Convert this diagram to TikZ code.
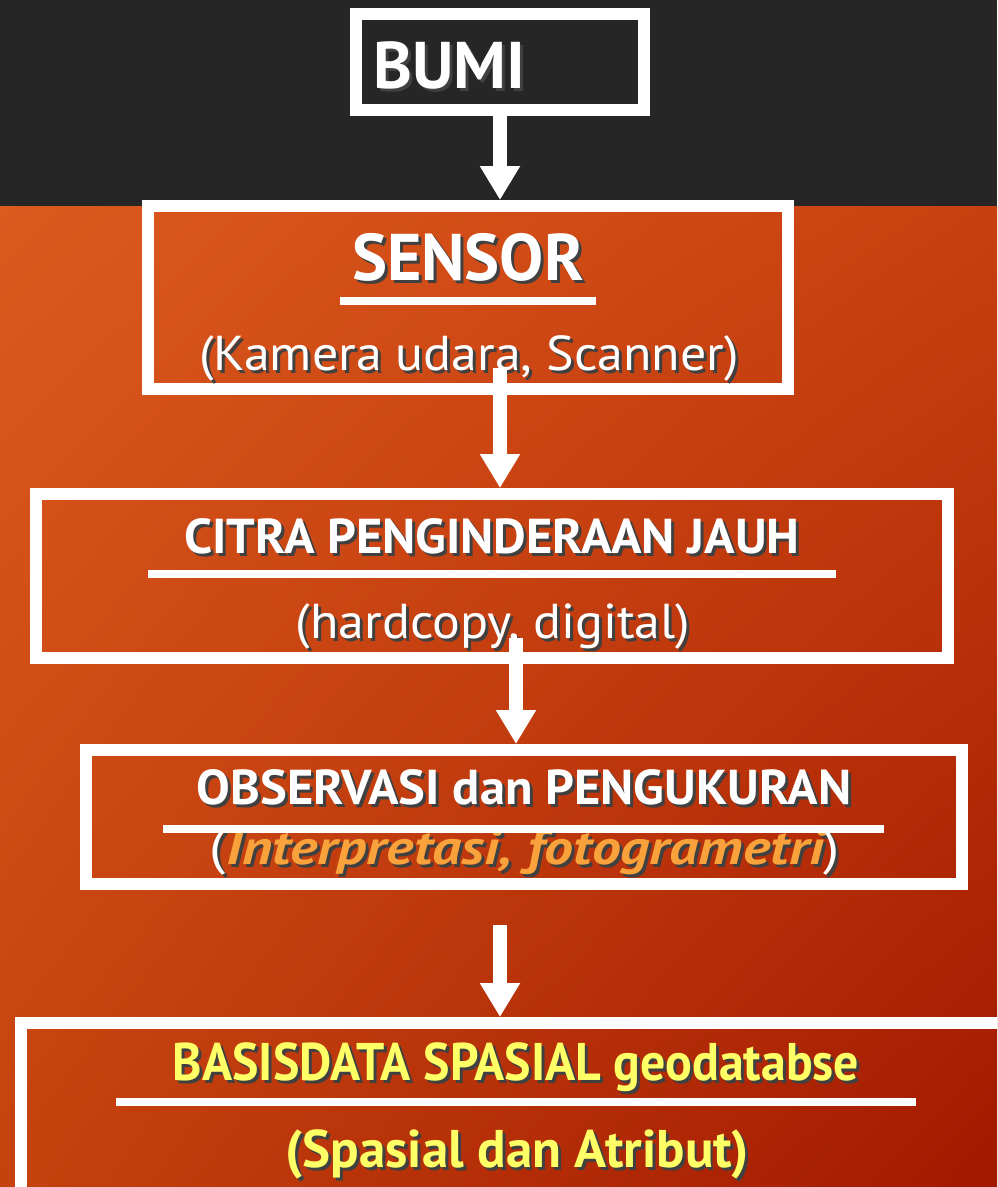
\documentclass[tikz,border=0pt]{standalone}
\usepackage{fontspec}
\setmainfont{PT Sans}
\newfontfamily\titlefont[FakeStretch=1.03]{PT Sans}
\newfontfamily\subfont[FakeStretch=1.06]{PT Sans}
\newfontfamily\basisfont[FakeStretch=0.94]{PT Sans}
\newfontfamily\interpfont[FakeStretch=1.18]{PT Sans}
\usetikzlibrary{calc,positioning,arrows.meta,shadings}

\definecolor{darkband}{HTML}{262626}
\definecolor{dbyellow}{HTML}{FFFF66}
\definecolor{obsorange}{HTML}{F9A23C}
\definecolor{bgul}{RGB}{220,90,30}
\definecolor{bgur}{RGB}{200,64,15}
\definecolor{bgll}{RGB}{197,66,14}
\definecolor{bglr}{RGB}{162,24,0}

% text with a soft drop shadow
\newcommand{\shd}[1]{\rlap{\kern3pt\raisebox{-3pt}{\textcolor{black!75}{#1}}}#1}

\begin{document}
\begin{tikzpicture}[x=1pt,y=-1pt]
    \tikzset{
        flowbox/.style={draw=white, line width=12pt, rectangle,
            inner sep=0pt},
        boxtext/.style={text=white, anchor=base, inner sep=0pt},
        underbar/.style={white, line width=8pt},
        flowarrow/.style={white, line width=14pt,
            -{Triangle[length=34pt,width=38pt]}}
    }
    \useasboundingbox (0,0) rectangle (997,1187);
    \clip (0,0) rectangle (997,1187);

    % Background
    \shade[upper left=bgul, upper right=bgur, lower left=bgll, lower right=bglr]
        (0,206) rectangle (997,1187);
    \fill[darkband] (0,0) rectangle (997,206);

    % Boxes
    \node[flowbox, minimum width=288pt, minimum height=96pt]  (bumi)   at (500,62) {};
    \node[flowbox, minimum width=640pt, minimum height=183pt] (sensor) at (468,297.5) {};
    \node[flowbox, minimum width=912pt, minimum height=164pt] (citra)  at (492,576) {};
    \node[flowbox, minimum width=876pt, minimum height=134pt] (obs)    at (524,817) {};
    \node[flowbox, minimum width=982pt, minimum height=177pt] (basis)  at (512,1111.5) {};

    % Titles
    \node[boxtext, font=\bfseries\fontsize{66}{70}\selectfont] (bumitxt) at (449,88) {\shd{BUMI}};
    \node[boxtext, font=\bfseries\fontsize{66}{70}\selectfont] (sensortxt) at (468,280) {\shd{SENSOR}};
    \node[boxtext, font=\subfont\fontsize{49}{54}\selectfont] (sensorsub) at (469,370) {\shd{(Kamera udara, Scanner)}};
    \node[boxtext, font=\titlefont\bfseries\fontsize{49}{54}\selectfont] (citratxt) at (492,553) {\shd{CITRA PENGINDERAAN JAUH}};
    \node[boxtext, font=\subfont\fontsize{49}{54}\selectfont] (citrasub) at (493,638) {\shd{(hardcopy, digital)}};
    \node[boxtext, font=\titlefont\bfseries\fontsize{49}{54}\selectfont] (obstxt) at (524,804) {\shd{OBSERVASI dan PENGUKURAN}};
    \node[boxtext, font=\interpfont\fontsize{49}{54}\selectfont] (obssub) at (525,864)
        {\shd{(}\textcolor{obsorange}{\shd{\bfseries\itshape Interpretasi, fotogrametri}}\shd{)}};
    \node[boxtext, text=dbyellow, font=\basisfont\bfseries\fontsize{53}{58}\selectfont] (basistxt) at (516,1080) {\shd{BASISDATA SPASIAL geodatabse}};
    \node[boxtext, text=dbyellow, font=\bfseries\fontsize{53}{58}\selectfont] (basissub) at (517,1167) {\shd{(Spasial dan Atribut)}};

    % Bars under the titles
    \draw[underbar] (340,301) -- (596,301);
    \draw[underbar] (148,574) -- (836,574);
    \draw[underbar] (163,829) -- (884,829);
    \draw[underbar] (116,1102) -- (916,1102);

    % Arrows
    \coordinate (a2) at (500,368);
    \coordinate (a3) at (516,638);
    \coordinate (a4) at (500,925);
    \draw[flowarrow] (bumi.south) -- (bumi.south |- sensor.north);
    \draw[flowarrow] (a2) -- (a2 |- citra.north);
    \draw[flowarrow] (a3) -- (a3 |- obs.north);
    \draw[flowarrow] (a4) -- (a4 |- basis.north);
\end{tikzpicture}
\end{document}
